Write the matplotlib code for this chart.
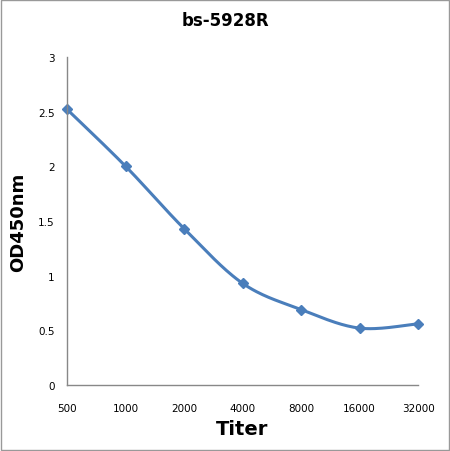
import matplotlib
matplotlib.use('Agg')
import matplotlib.pyplot as plt
import numpy as np
from matplotlib.patches import Rectangle

titers = ['500', '1000', '2000', '4000', '8000', '16000', '32000']
od450 = [2.52, 2.00, 1.43, 0.93, 0.69, 0.52, 0.56]
yticks = [0, 0.5, 1, 1.5, 2, 2.5, 3]


def smooth(xs, ys, n=30):
    # Catmull-Rom style smoothing, like Excel's "smoothed line"
    xs = np.asarray(xs, float)
    ys = np.asarray(ys, float)
    px = np.concatenate([[xs[0]], xs, [xs[-1]]])
    py = np.concatenate([[ys[0]], ys, [ys[-1]]])
    outx, outy = [], []
    t = np.linspace(0, 1, n)
    for i in range(1, len(px) - 2):
        p0, p1, p2, p3 = [np.array([px[j], py[j]]) for j in (i - 1, i, i + 1, i + 2)]
        c1 = p1 + (p2 - p0) / 6
        c2 = p2 - (p3 - p1) / 6
        b = ((1 - t) ** 3)[:, None] * p1 + (3 * (1 - t) ** 2 * t)[:, None] * c1 \
            + (3 * (1 - t) * t ** 2)[:, None] * c2 + (t ** 3)[:, None] * p2
        outx.extend(b[:, 0])
        outy.extend(b[:, 1])
    return outx, outy


fig = plt.figure(figsize=(4.5, 4.52), dpi=100)
ax = fig.add_axes([0.149, 0.146, 0.78, 0.726])

x = np.arange(len(titers))
sx, sy = smooth(x, od450)
ax.plot(sx, sy, color='#4A7EBB', linewidth=2.2, clip_on=False)
ax.plot(x, od450, linestyle='none', marker='D', markersize=5.5,
        color='#4A7EBB', clip_on=False)

ax.set_xlim(0, 6)
ax.set_ylim(0, 3)
ax.set_xticks(x)
ax.set_xticklabels(titers)
ax.set_yticks(yticks)
ax.set_yticklabels([f'{v:g}' for v in yticks])
ax.tick_params(axis='both', length=0, labelsize=7.5)
ax.tick_params(axis='x', pad=13)
ax.tick_params(axis='y', pad=9)

for side in ['top', 'right']:
    ax.spines[side].set_visible(False)
for side in ['left', 'bottom']:
    ax.spines[side].set_color('#888888')
    ax.spines[side].set_linewidth(1)

ax.set_xlabel('Titer', fontsize=14, fontweight='bold', labelpad=4)
ax.set_ylabel('OD450nm', fontsize=13, fontweight='bold', labelpad=8)
fig.text(0.5, 0.953, 'bs-5928R', ha='center', va='center',
         fontsize=12, fontweight='bold')

fig.patches.append(Rectangle((0.002, 0.002), 0.996, 0.996, transform=fig.transFigure,
                             fill=False, edgecolor='#999999', linewidth=1))

fig.savefig('out.png', dpi=100)
